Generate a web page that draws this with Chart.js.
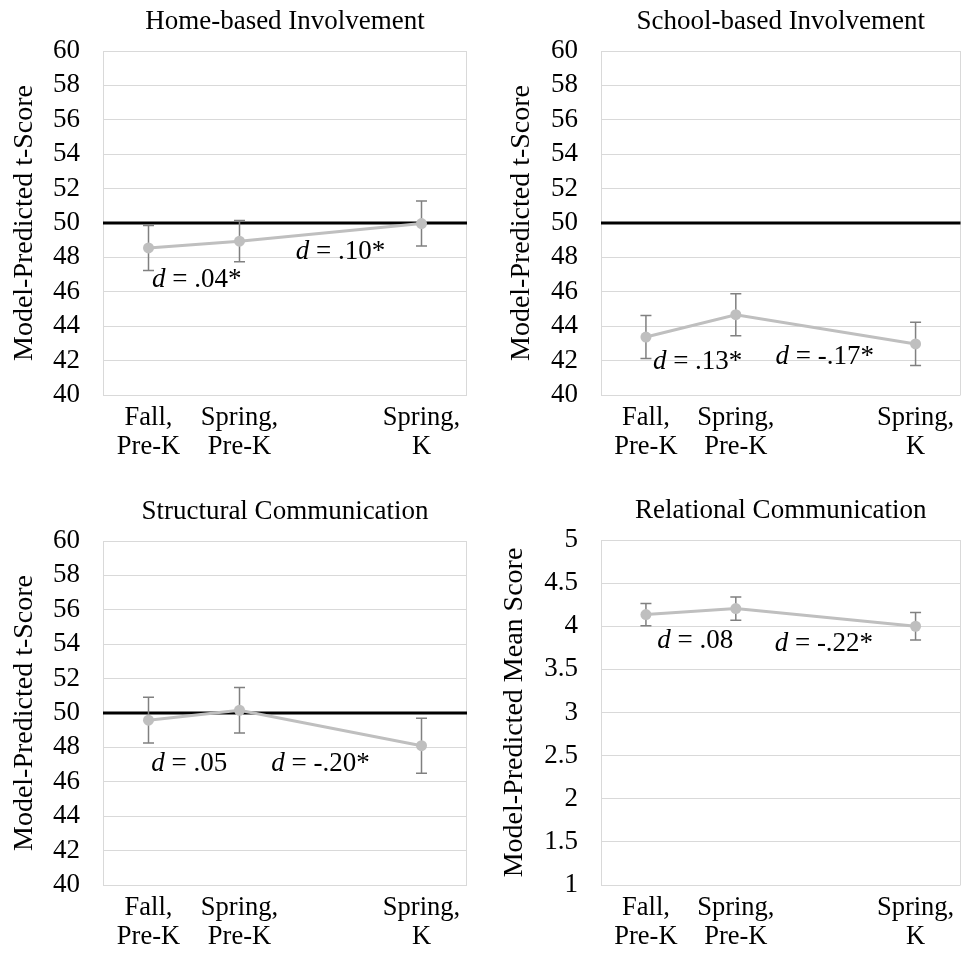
<!DOCTYPE html>
<html>
<head>
<meta charset="utf-8">
<script src="https://cdn.jsdelivr.net/npm/chart.js@4.4.1/dist/chart.umd.min.js"></script>
<style>
  html, body { margin: 0; padding: 0; background: #ffffff; }
  body { width: 966px; height: 953px; position: relative; overflow: hidden; }
  canvas { position: absolute; }
  #c1 { left: 0; top: 0; }
  #c2 { left: 483px; top: 0; }
  #c3 { left: 0; top: 476px; }
  #c4 { left: 483px; top: 476px; }
</style>
</head>
<body>
<canvas id="c1" width="483" height="476"></canvas>
<canvas id="c2" width="483" height="476"></canvas>
<canvas id="c3" width="483" height="477"></canvas>
<canvas id="c4" width="483" height="477"></canvas>
<script>
// ---------- data ----------
const categories = [["Fall,", "Pre-K"], ["Spring,", "Pre-K"], "", ["Spring,", "K"]];

const panelTitles = ["Home-based Involvement", "School-based Involvement",
                     "Structural Communication", "Relational Communication"];
const yAxisTitles = ["Model-Predicted t-Score", "Model-Predicted t-Score",
                     "Model-Predicted t-Score", "Model-Predicted Mean Score"];

const homeMeans   = [48.55, 48.94, null, 49.97];
const homeErrors  = [1.31, 1.20, null, 1.31];
const schoolMeans  = [43.37, 44.67, null, 42.97];
const schoolErrors = [1.25, 1.22, null, 1.26];
const structMeans  = [49.58, 50.16, null, 48.10];
const structErrors = [1.33, 1.32, null, 1.60];
const relMeans  = [4.135, 4.205, null, 4.00];
const relErrors = [0.13, 0.135, null, 0.16];

const tScoreTicks = { min: 40, max: 60, step: 2 };
const meanScoreTicks = { min: 1, max: 5, step: 0.5 };
const tScoreReference = 50;

const homeEffects   = [".04*", ".10*"];
const schoolEffects = [".13*", "-.17*"];
const structEffects = [".05", "-.20*"];
const relEffects    = [".08", "-.22*"];

// ---------- styling / placement (not data) ----------
const FONT = "'Liberation Serif', 'Times New Roman', serif";
Chart.defaults.font.family = FONT;
Chart.defaults.color = '#000000';

// anchor of each effect-size label, in category-index / value units
const effectAnchors = [
  [{ x: 0.53, y: 46.67 }, { x: 2.11, y: 48.31 }],
  [{ x: 0.575, y: 41.9 }, { x: 1.99, y: 42.19 }],
  [{ x: 0.447, y: 47.06 }, { x: 1.89, y: 47.06 }],
  [{ x: 0.548, y: 3.83 }, { x: 1.98, y: 3.79 }]
];

const decorPlugin = {
  id: 'decor',
  beforeDatasetsDraw(chart, args, opts) {
    const { ctx, chartArea: a, scales: { x, y } } = chart;
    ctx.save();
    // plot frame
    ctx.strokeStyle = '#d9d9d9';
    ctx.lineWidth = 1;
    ctx.beginPath();
    ctx.moveTo(Math.round(a.left) + 0.5, a.top);
    ctx.lineTo(Math.round(a.left) + 0.5, a.bottom);
    ctx.moveTo(Math.round(a.right) - 0.5, a.top);
    ctx.lineTo(Math.round(a.right) - 0.5, a.bottom);
    ctx.stroke();
    // reference line
    if (opts.reference != null) {
      const py = y.getPixelForValue(opts.reference);
      ctx.strokeStyle = '#000000';
      ctx.lineWidth = 3;
      ctx.beginPath();
      ctx.moveTo(a.left, py);
      ctx.lineTo(a.right, py);
      ctx.stroke();
    }
    // error bars
    const vals = chart.data.datasets[0].data;
    const errs = opts.errors || [];
    ctx.strokeStyle = '#808080';
    ctx.lineWidth = 1.5;
    vals.forEach((v, i) => {
      if (v == null || errs[i] == null) return;
      const px = x.getPixelForValue(i);
      const t = y.getPixelForValue(v + errs[i]);
      const b = y.getPixelForValue(v - errs[i]);
      ctx.beginPath();
      ctx.moveTo(px, t); ctx.lineTo(px, b);
      ctx.moveTo(px - 5.5, t); ctx.lineTo(px + 5.5, t);
      ctx.moveTo(px - 5.5, b); ctx.lineTo(px + 5.5, b);
      ctx.stroke();
    });
    ctx.restore();
  },
  afterDatasetsDraw(chart, args, opts) {
    const { ctx, scales: { x, y } } = chart;
    const labels = opts.effects || [];
    const anchors = opts.anchors || [];
    ctx.save();
    ctx.fillStyle = '#000000';
    ctx.textBaseline = 'middle';
    ctx.textAlign = 'left';
    labels.forEach((txt, i) => {
      const an = anchors[i];
      const cx = x.getPixelForValue(an.x);
      const cy = y.getPixelForValue(an.y);
      const italic = 'italic 27px ' + FONT;
      const normal = '27px ' + FONT;
      const rest = ' = ' + txt;
      ctx.font = italic;
      const w1 = ctx.measureText('d').width;
      ctx.font = normal;
      const w2 = ctx.measureText(rest).width;
      let sx = cx - (w1 + w2) / 2;
      ctx.font = italic;
      ctx.fillText('d', sx, cy);
      ctx.font = normal;
      ctx.fillText(rest, sx + w1, cy);
    });
    ctx.restore();
  }
};

function makePanel(id, idx, means, errors, effects, tickSpec, reference, geom) {
  const ctx = document.getElementById(id).getContext('2d');
  return new Chart(ctx, {
    type: 'line',
    data: {
      labels: categories,
      datasets: [{
        data: means,
        borderColor: '#bfbfbf',
        borderWidth: 3,
        backgroundColor: '#bfbfbf',
        pointBackgroundColor: '#bfbfbf',
        pointBorderWidth: 0,
        pointRadius: 5.5,
        pointHoverRadius: 5.5,
        spanGaps: true,
        tension: 0,
        fill: false
      }]
    },
    options: {
      responsive: false,
      animation: false,
      events: [],
      layout: { padding: { left: 0, right: geom.right, top: 0, bottom: 0 } },
      plugins: {
        legend: { display: false },
        tooltip: { enabled: false },
        title: {
          display: true,
          text: panelTitles[idx],
          fullSize: false,
          color: '#000000',
          font: { size: 27, weight: 'normal', lineHeight: 1.2 },
          padding: { top: geom.titleTop, bottom: 12.6 }
        },
        decor: { errors: errors, reference: reference, effects: effects, anchors: effectAnchors[idx] }
      },
      scales: {
        x: {
          type: 'category',
          offset: true,
          grid: { display: false, drawTicks: false },
          border: { display: false },
          ticks: {
            autoSkip: false, maxRotation: 0, minRotation: 0,
            color: '#000000',
            padding: 8,
            font: { size: 26.5, lineHeight: 1.1 }
          },
          afterFit(s) { s.height = geom.xHeight; }
        },
        y: {
          min: tickSpec.min,
          max: tickSpec.max,
          grid: { color: '#d9d9d9', lineWidth: 1, drawTicks: false },
          border: { display: false },
          ticks: {
            stepSize: tickSpec.step,
            autoSkip: false,
            color: '#000000',
            padding: 23,
            font: { size: 27 },
            callback: (v) => String(Math.round(v * 100) / 100)
          },
          title: {
            display: true,
            text: yAxisTitles[idx],
            color: '#000000',
            font: { size: 28, lineHeight: 1.2 },
            padding: { top: geom.yTitleTop, bottom: 0 }
          },
          afterFit(s) { s.width = geom.yWidth; }
        }
      }
    },
    plugins: [decorPlugin]
  });
}

makePanel('c1', 0, homeMeans, homeErrors, homeEffects, tScoreTicks, tScoreReference,
  { right: 16, titleTop: 6, xHeight: 81, yWidth: 103, yTitleTop: 8 });
makePanel('c2', 1, schoolMeans, schoolErrors, schoolEffects, tScoreTicks, tScoreReference,
  { right: 5, titleTop: 6, xHeight: 81, yWidth: 118, yTitleTop: 22 });
makePanel('c3', 2, structMeans, structErrors, structEffects, tScoreTicks, tScoreReference,
  { right: 16, titleTop: 20, xHeight: 68, yWidth: 103, yTitleTop: 8 });
makePanel('c4', 3, relMeans, relErrors, relEffects, meanScoreTicks, null,
  { right: 5, titleTop: 19, xHeight: 68, yWidth: 118, yTitleTop: 15 });
</script>
</body>
</html>
